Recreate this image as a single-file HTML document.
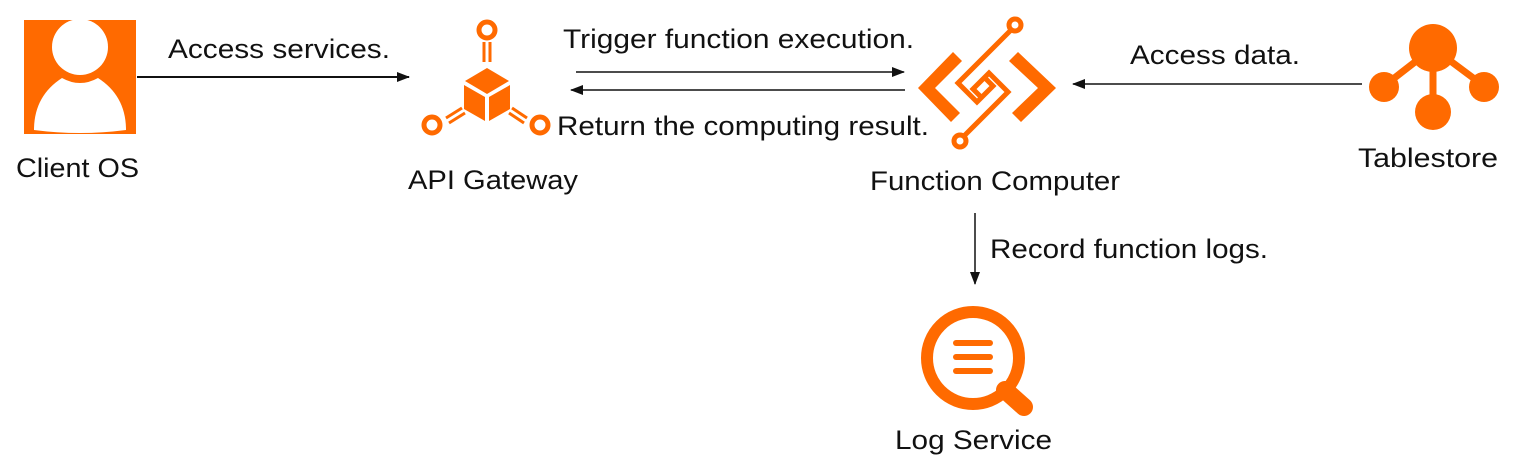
<!DOCTYPE html>
<html><head><meta charset="utf-8"><style>
html,body{margin:0;padding:0;background:#fff;}
svg{display:block;}
text{font-family:"Liberation Sans",Arial,sans-serif;font-size:27px;fill:#111;}
</style></head><body>
<svg width="1526" height="470" viewBox="0 0 1526 470" xmlns="http://www.w3.org/2000/svg">
<defs>
<marker id="ah" markerWidth="13" markerHeight="10" refX="12" refY="5" orient="auto" markerUnits="userSpaceOnUse">
<path d="M0,0 L13,5 L0,10 Z" fill="#111"/>
</marker>
</defs>
<!-- Client OS -->
<rect x="24" y="20" width="112" height="114" fill="#FF6A00"/>
<circle cx="80" cy="47" r="28" fill="#fff"/>
<path d="M34,130 Q34,96 62,78 Q80,88 98,78 Q126,96 126,130 Q80,136 34,130 Z" fill="#fff"/>
<text x="16" y="177" textLength="123" lengthAdjust="spacingAndGlyphs">Client OS</text>

<line x1="137" y1="77" x2="409" y2="77" stroke="#111" stroke-width="2" marker-end="url(#ah)"/>
<text x="168" y="58" textLength="222" lengthAdjust="spacingAndGlyphs">Access services.</text>

<!-- API Gateway -->
<g fill="#FF6A00" stroke="none">
<path d="M487,68 L509,81 L487,94 L465,81 Z"/>
<path d="M464,85 L485,97 L485,121 L464,109 Z"/>
<path d="M489,97 L510,85 L510,109 L489,121 Z"/>
</g>
<g fill="none" stroke="#FF6A00" stroke-width="5">
<circle cx="487" cy="30" r="8"/>
<circle cx="432" cy="125" r="8"/>
<circle cx="540" cy="125" r="8"/>
</g>
<g stroke="#FF6A00" stroke-width="3" fill="none">
<line x1="484" y1="42" x2="484" y2="62"/><line x1="490" y1="42" x2="490" y2="62"/>
<line x1="446" y1="118" x2="462" y2="108"/><line x1="449" y1="123" x2="465" y2="113"/>
<line x1="527" y1="118" x2="512" y2="108"/><line x1="524" y1="123" x2="509" y2="113"/>
</g>
<text x="408" y="189" textLength="170" lengthAdjust="spacingAndGlyphs">API Gateway</text>

<line x1="576" y1="72" x2="904" y2="72" stroke="#111" stroke-width="1.5" marker-end="url(#ah)"/>
<line x1="905" y1="90" x2="571" y2="90" stroke="#111" stroke-width="1.5" marker-end="url(#ah)"/>
<text x="563" y="48" textLength="351" lengthAdjust="spacingAndGlyphs">Trigger function execution.</text>
<text x="557" y="135" textLength="372" lengthAdjust="spacingAndGlyphs">Return the computing result.</text>

<!-- Function Computer -->
<g fill="#FF6A00">
<path d="M953,52 L962,61 L935,88 L960,113 L951,122 L918,88 Z"/>
<path d="M1018,52 L1056,88 L1021,122 L1012,113 L1038,88 L1009,61 Z"/>
</g>
<g fill="none" stroke="#FF6A00" stroke-width="5">
<circle cx="1015" cy="25" r="6"/>
<circle cx="960" cy="141" r="6"/>
<path d="M1011,30 L958,83 L977,102 L993,86 L983,76"/>
<path d="M964,136 L1008,92 L989,73 L973,89 L982,98"/>
</g>
<text x="870" y="190" textLength="250" lengthAdjust="spacingAndGlyphs">Function Computer</text>

<line x1="1362" y1="84" x2="1073" y2="84" stroke="#111" stroke-width="1.5" marker-end="url(#ah)"/>
<text x="1130" y="64" textLength="170" lengthAdjust="spacingAndGlyphs">Access data.</text>

<!-- Tablestore -->
<g fill="#FF6A00" stroke="#FF6A00">
<line x1="1433" y1="48" x2="1384" y2="86" stroke-width="7"/>
<line x1="1433" y1="48" x2="1484" y2="86" stroke-width="7"/>
<line x1="1433" y1="48" x2="1433" y2="112" stroke-width="7"/>
<circle cx="1433" cy="48" r="24" stroke="none"/>
<circle cx="1384" cy="87" r="15" stroke="none"/>
<circle cx="1484" cy="87" r="15" stroke="none"/>
<circle cx="1433" cy="112" r="18" stroke="none"/>
</g>
<text x="1358" y="167" textLength="140" lengthAdjust="spacingAndGlyphs">Tablestore</text>

<line x1="975" y1="213" x2="975" y2="284" stroke="#111" stroke-width="1.5" marker-end="url(#ah)"/>
<text x="990" y="258" textLength="278" lengthAdjust="spacingAndGlyphs">Record function logs.</text>

<!-- Log Service -->
<g stroke="#FF6A00" fill="none" stroke-linecap="round">
<line x1="1005" y1="390" x2="1024" y2="407" stroke-width="18"/>
<circle cx="973" cy="358" r="46" stroke-width="12"/>
<line x1="956" y1="343" x2="990" y2="343" stroke-width="6"/>
<line x1="956" y1="357" x2="990" y2="357" stroke-width="6"/>
<line x1="956" y1="371" x2="990" y2="371" stroke-width="6"/>
</g>
<text x="895" y="449" textLength="157" lengthAdjust="spacingAndGlyphs">Log Service</text>
</svg>
</body></html>
